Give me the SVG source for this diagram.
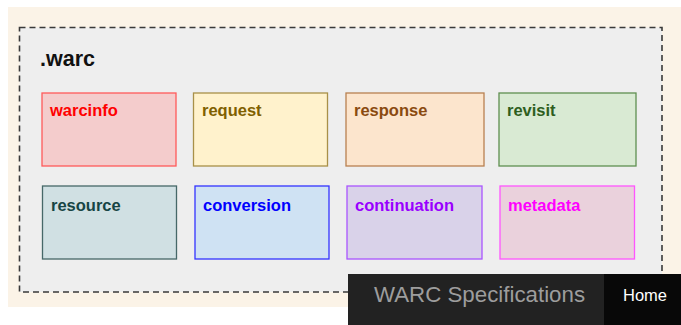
<svg xmlns="http://www.w3.org/2000/svg" width="681" height="325" viewBox="0 0 681 325">
  <style>
    .label { font-family: "Liberation Sans", Arial, sans-serif; font-weight: bold; font-size: 16.5px; }
    .box { stroke-width: 1.3; }
    .title { font-family: "Liberation Sans", Arial, sans-serif; font-weight: bold; font-size: 21.5px; fill: #111111; }
    .nav { font-family: "Liberation Sans", Arial, sans-serif; }
  </style>
  <rect x="0" y="0" width="681" height="325" fill="#ffffff"/>
  <!-- page background -->
  <rect x="8" y="7" width="673" height="300" fill="#fbf3e7"/>
  <!-- container -->
  <g id="warc">
    <rect x="19.5" y="27.5" width="642.5" height="264.5" fill="#eeeeee" stroke="#3a3a3a" stroke-width="1.6" stroke-dasharray="6,4"/>
    <text class="title" x="40" y="66">.warc</text>
  </g>
  <g id="warcinfo">
    <rect class="box" x="42" y="93" width="134" height="73" fill="#f4cccc" stroke="#ff5a5a"/>
    <text class="label" x="50" y="116" fill="#ff0000">warcinfo</text>
  </g>
  <g id="request">
    <rect class="box" x="193.5" y="93" width="134" height="73" fill="#fff2cc" stroke="#a89048"/>
    <text class="label" x="202" y="116" fill="#7f6000">request</text>
  </g>
  <g id="response">
    <rect class="box" x="346" y="93" width="138" height="73" fill="#fce5cd" stroke="#b88050"/>
    <text class="label" x="354" y="116" fill="#8a4a10">response</text>
  </g>
  <g id="revisit">
    <rect class="box" x="499" y="93" width="137" height="73" fill="#d9ead3" stroke="#5f8f50"/>
    <text class="label" x="507" y="116" fill="#2e5e1e">revisit</text>
  </g>
  <g id="resource">
    <rect class="box" x="42.5" y="186" width="134" height="73" fill="#d0e0e3" stroke="#466868"/>
    <text class="label" x="51" y="211" fill="#174545">resource</text>
  </g>
  <g id="conversion">
    <rect class="box" x="195" y="186" width="134" height="73" fill="#cfe2f3" stroke="#3333ff"/>
    <text class="label" x="203" y="211" fill="#0000ff">conversion</text>
  </g>
  <g id="continuation">
    <rect class="box" x="347" y="186" width="135" height="73" fill="#d9d2e9" stroke="#aa55ff"/>
    <text class="label" x="355" y="211" fill="#9900ff">continuation</text>
  </g>
  <g id="metadata">
    <rect class="box" x="500" y="186" width="134.5" height="73" fill="#ead1dc" stroke="#ff55ff"/>
    <text class="label" x="508" y="211" fill="#ff00ff">metadata</text>
  </g>
  <g id="connectors"/>
  <!-- navigation bar -->
  <g id="navbar">
    <rect x="348" y="274" width="333" height="51" fill="#222222"/>
    <rect x="604" y="274" width="77" height="51" fill="#080808"/>
    <text class="nav" x="374" y="302" font-size="22.3" fill="#9d9d9d">WARC Specifications</text>
    <text class="nav" x="623" y="301" font-size="16.5" fill="#ffffff">Home</text>
  </g>
</svg>
